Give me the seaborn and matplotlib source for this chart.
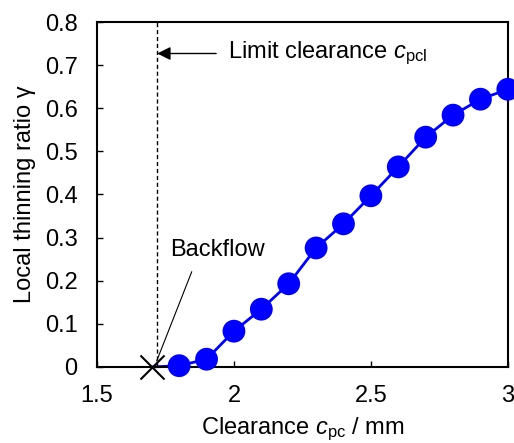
import numpy as np
import pandas as pd
import seaborn as sns
import matplotlib.pyplot as plt

# data
clearance = [1.8, 1.9, 2.0, 2.1, 2.2, 2.3, 2.4, 2.5, 2.6, 2.7, 2.8, 2.9, 3.0]
thinning = [0.003, 0.018, 0.083, 0.134, 0.193, 0.276, 0.332, 0.397, 0.464, 0.533, 0.584, 0.621, 0.644]
backflow_x = [1.7]
backflow_y = [0.0]
limit_clearance = 1.72

sns.set_theme(style="white")
plt.rcParams['font.family'] = ['Liberation Sans', 'DejaVu Sans']
plt.rcParams['text.color'] = 'black'
plt.rcParams['axes.labelcolor'] = 'black'
plt.rcParams['mathtext.fontset'] = 'custom'
plt.rcParams['mathtext.rm'] = 'Liberation Sans'
plt.rcParams['mathtext.it'] = 'Liberation Sans:italic'

df = pd.DataFrame({"c": backflow_x + clearance, "gamma": backflow_y + thinning})
pts = pd.DataFrame({"c": clearance, "gamma": thinning})

fig = plt.figure(figsize=(5.14, 4.43), dpi=100)
ax = fig.add_axes([0.1887, 0.1716, 0.7993, 0.7787])

sns.lineplot(data=df, x="c", y="gamma", ax=ax, color="#0000ff", lw=2, clip_on=False)
sns.scatterplot(data=pts, x="c", y="gamma", ax=ax, color="#0000ff", s=270,
                edgecolor="none", clip_on=False, zorder=5)
ax.scatter(backflow_x, backflow_y, marker="x", s=300, color="black", lw=1.5,
           clip_on=False, zorder=6)

ax.axvline(limit_clearance, color="black", ls=(0, (3, 2)), lw=1)

ax.set_xlim(1.5, 3.0)
ax.set_ylim(0, 0.8)
ax.set_xticks([1.5, 2.0, 2.5, 3.0])
ax.set_xticklabels(["1.5", "2", "2.5", "3"])
ax.set_yticks(np.arange(0, 0.81, 0.1))
ax.set_yticklabels(["0"] + [f"{v:.1f}" for v in np.arange(0.1, 0.81, 0.1)])
ax.tick_params(direction="in", length=4, width=1, labelsize=17, color="black",
               labelcolor="black", bottom=True, left=True)
ax.tick_params(axis="x", pad=13)
ax.tick_params(axis="y", pad=14)

for s in ax.spines.values():
    s.set_color("black")
    s.set_linewidth(1.5)

ax.set_xlabel(r"Clearance $c_{\mathrm{pc}}$ / mm", fontsize=17, labelpad=6)
ax.set_ylabel("Local thinning ratio γ", fontsize=17, labelpad=6)

# limit clearance arrow
ax.annotate("", xy=(limit_clearance, 0.727), xytext=(1.935, 0.727),
            arrowprops=dict(arrowstyle="-|>", color="black", lw=1,
                            mutation_scale=20, shrinkA=0, shrinkB=0))
ax.text(1.98, 0.727, r"Limit clearance $c_{\mathrm{pcl}}$", fontsize=17,
        va="center", ha="left")

# backflow label and leader line
ax.text(1.766, 0.271, "Backflow", fontsize=17, va="center", ha="left")
ax.annotate("", xy=(1.718, 0.014), xytext=(1.846, 0.221),
            arrowprops=dict(arrowstyle="-", color="black", lw=0.8,
                            shrinkA=0, shrinkB=0))

fig.savefig("out.png", dpi=100)
